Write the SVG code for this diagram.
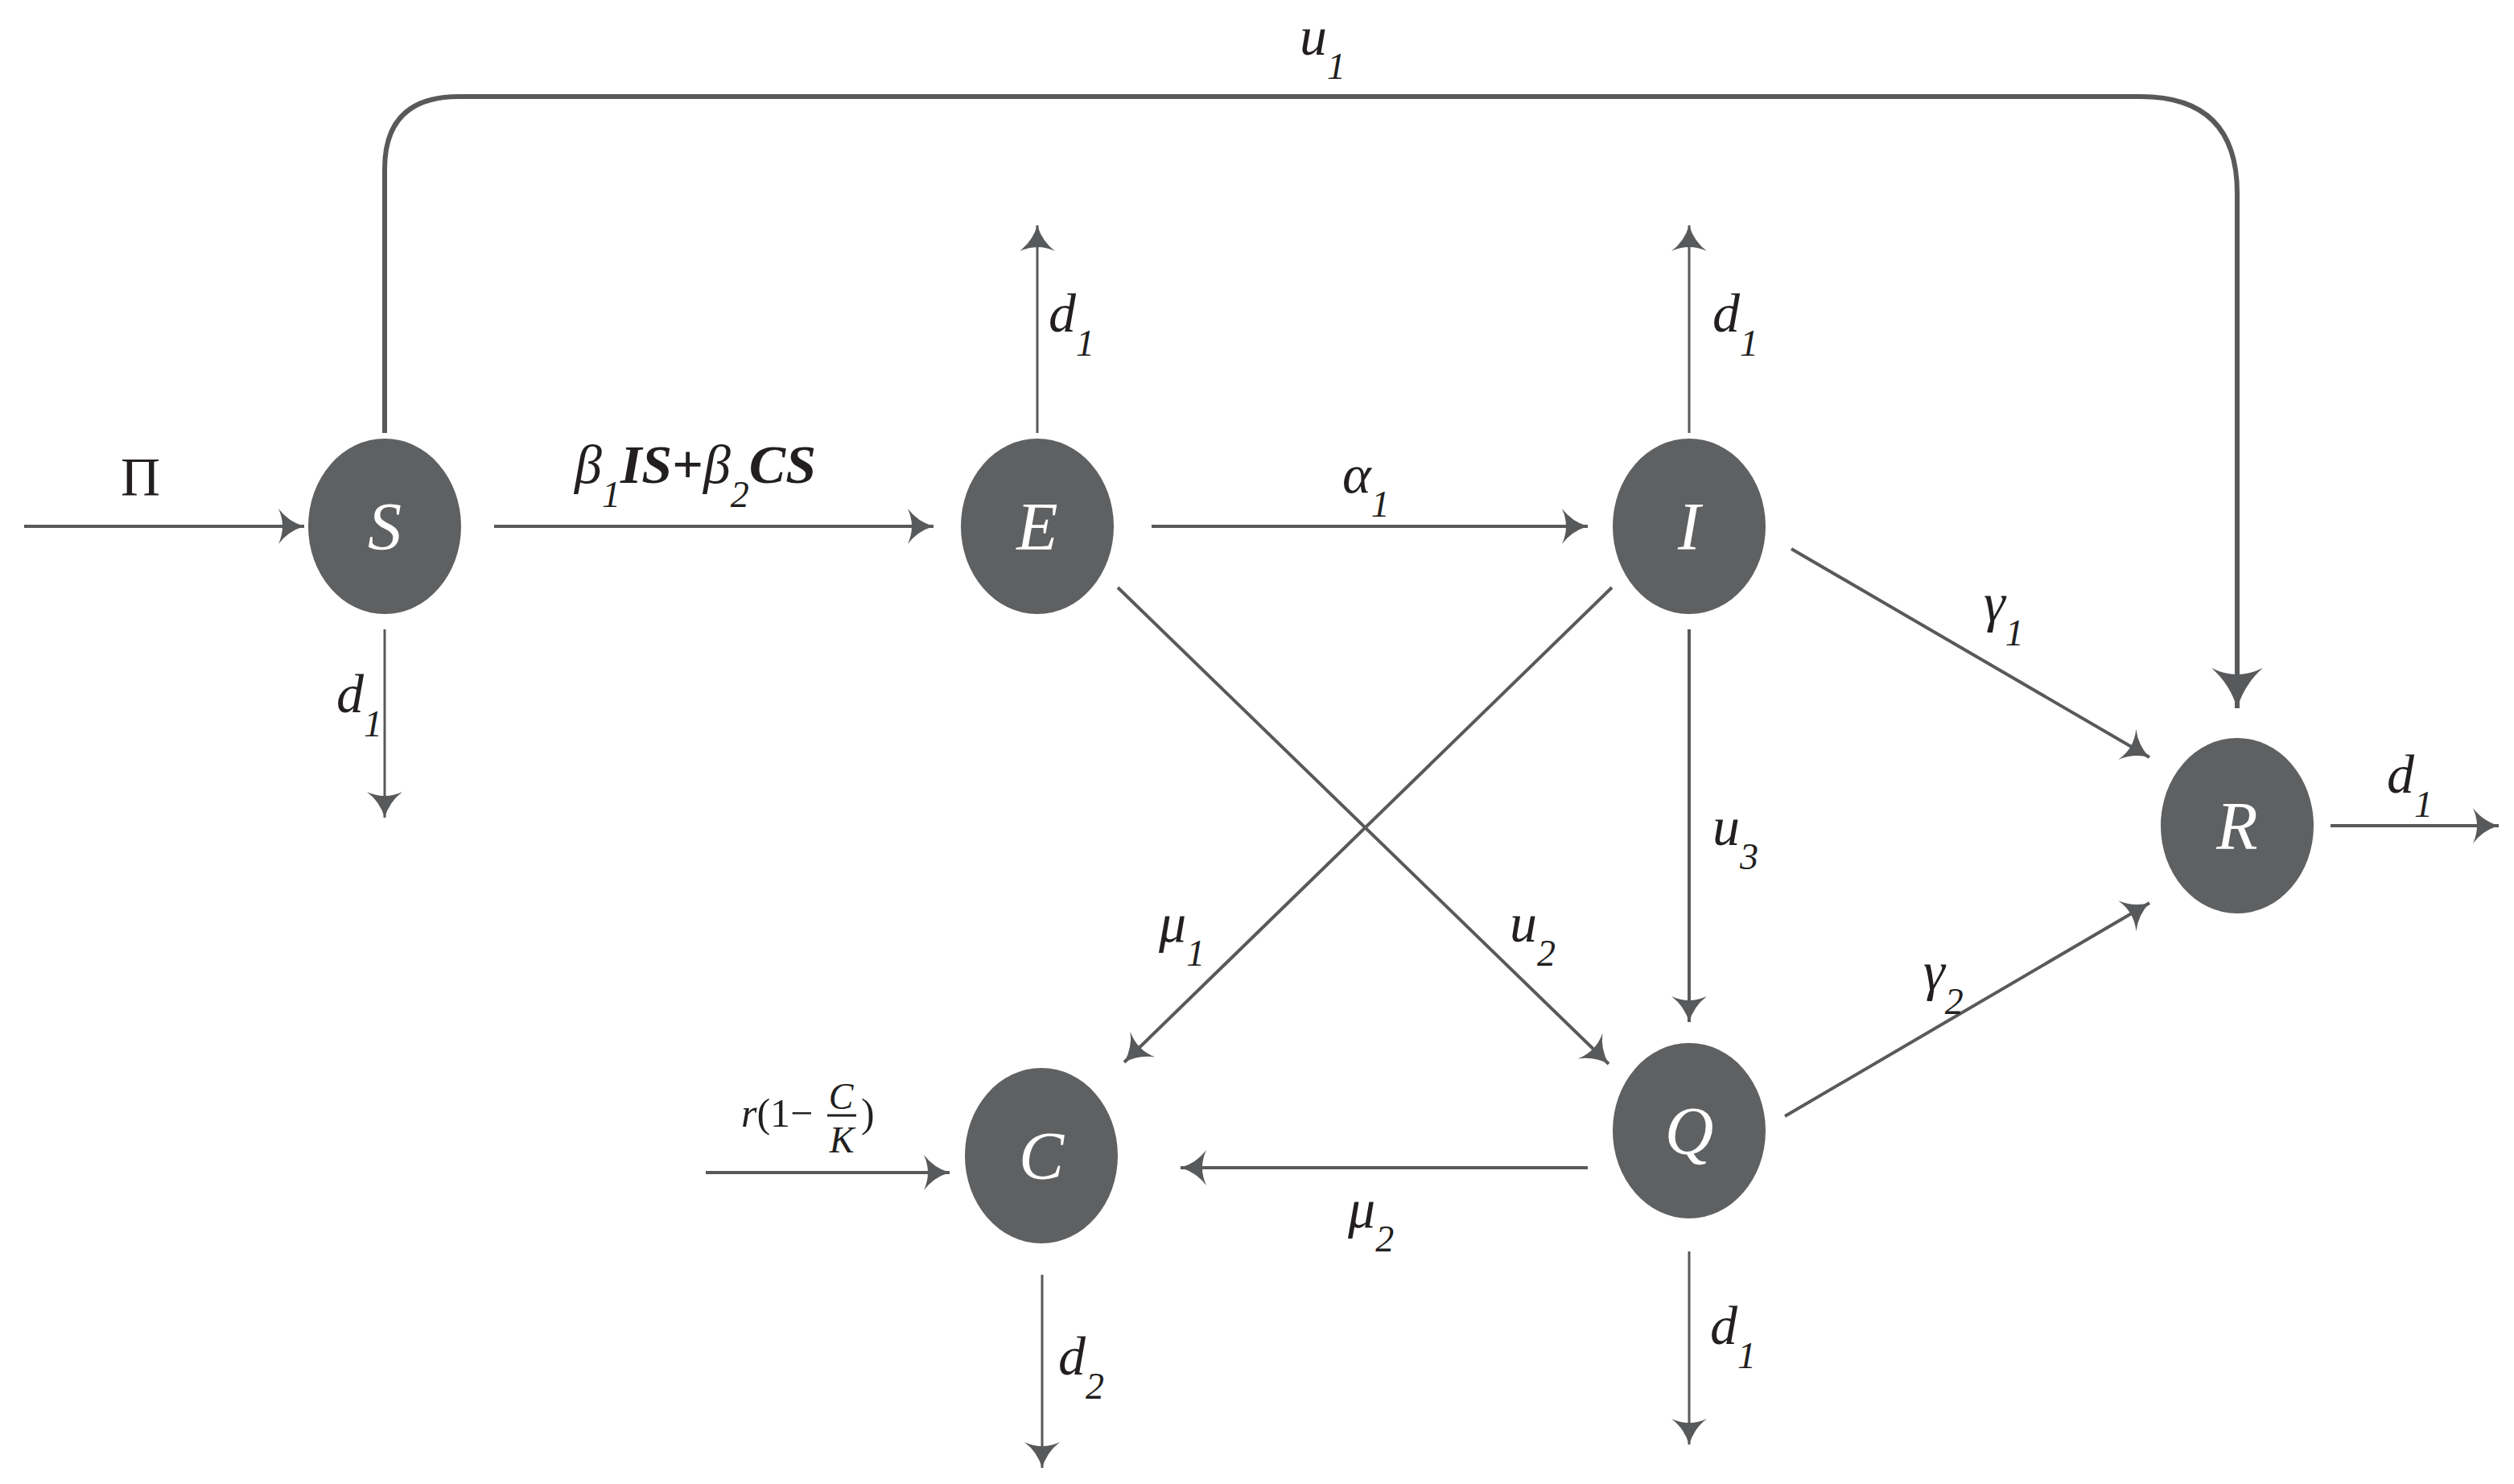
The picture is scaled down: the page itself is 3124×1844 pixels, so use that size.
<svg xmlns="http://www.w3.org/2000/svg" width="3124" height="1844" viewBox="0 0 3124 1844">
<style>
.n{fill:#5f6062}
.nl{font-family:"Liberation Serif",serif;font-style:italic;font-size:84px;fill:#fff;text-anchor:middle}
.l{font-family:"Liberation Serif",serif;font-style:italic;font-size:68px;fill:#231f20}
.s{font-size:46px}
.c{fill:none;stroke:#58595b;stroke-width:4;marker-end:url(#a)}
.t{stroke-width:3}
</style>
<defs>
<marker id="a" markerUnits="userSpaceOnUse" viewBox="-34 -24 36 48" refX="0" refY="0" markerWidth="36" markerHeight="48" orient="auto">
<path d="M0,0 Q-20,-6 -32,-22 Q-22,0 -32,22 Q-20,6 0,0Z" fill="#58595b"/>
</marker>
<marker id="b" markerUnits="userSpaceOnUse" viewBox="-52 -34 54 68" refX="0" refY="0" markerWidth="54" markerHeight="68" orient="auto">
<path d="M0,0 Q-30,-9 -50,-32 Q-34,0 -50,32 Q-30,9 0,0Z" fill="#58595b"/>
</marker>
</defs>
<g id="connectors">
<line class="c" x1="30" y1="654" x2="378" y2="654"/>
<line class="c" x1="614" y1="654" x2="1160" y2="654"/>
<line class="c t" x1="478" y1="782" x2="478" y2="1016"/>
<path class="c" style="stroke-width:6;marker-end:url(#b)" d="M478,538 V210 Q478,120 570,120 H2660 Q2780,120 2780,240 V880"/>
<line class="c t" x1="1289" y1="538" x2="1289" y2="280"/>
<line class="c" x1="1431" y1="654" x2="1973" y2="654"/>
<line class="c t" x1="2099" y1="538" x2="2099" y2="280"/>
<line class="c" x1="2226" y1="682" x2="2671" y2="941"/>
<line class="c" x1="2099" y1="782" x2="2099" y2="1270"/>
<line class="c" x1="2003" y1="730" x2="1397" y2="1320"/>
<line class="c" x1="1389" y1="730" x2="1999" y2="1322"/>
<line class="c" x1="2218" y1="1387" x2="2671" y2="1122"/>
<line class="c" x1="1973" y1="1451" x2="1467" y2="1451"/>
<line class="c t" x1="2099" y1="1555" x2="2099" y2="1795"/>
<line class="c t" x1="1295" y1="1584" x2="1295" y2="1824"/>
<line class="c" x1="877" y1="1457" x2="1180" y2="1457"/>
<line class="c" x1="2896" y1="1026" x2="3105" y2="1026"/>
</g>
<g id="labels">
<text class="l" x="150" y="615" style="font-style:normal">Π</text>
<text class="l" x="714" y="600">β<tspan class="s" dy="30">1</tspan><tspan dy="-30" font-weight="bold">IS</tspan><tspan font-weight="bold" font-style="normal">+</tspan>β<tspan class="s" dy="30">2</tspan><tspan dy="-30" font-weight="bold">CS</tspan></text>
<text class="l" x="418" y="885">d<tspan class="s" dy="30">1</tspan></text>
<text class="l" x="1615" y="68">u<tspan class="s" dy="30">1</tspan></text>
<text class="l" x="1303" y="412">d<tspan class="s" dy="30">1</tspan></text>
<text class="l" x="1668" y="612">α<tspan class="s" dy="30">1</tspan></text>
<text class="l" x="2128" y="412">d<tspan class="s" dy="30">1</tspan></text>
<text class="l" x="2465" y="772">γ<tspan class="s" dy="30">1</tspan></text>
<text class="l" x="2128" y="1050">u<tspan class="s" dy="30">3</tspan></text>
<text class="l" x="1440" y="1170">μ<tspan class="s" dy="30">1</tspan></text>
<text class="l" x="1876" y="1170">u<tspan class="s" dy="30">2</tspan></text>
<text class="l" x="2390" y="1230">γ<tspan class="s" dy="30">2</tspan></text>
<text class="l" x="1675" y="1525">μ<tspan class="s" dy="30">2</tspan></text>
<text class="l" x="2125" y="1670">d<tspan class="s" dy="30">1</tspan></text>
<text class="l" x="1315" y="1708">d<tspan class="s" dy="30">2</tspan></text>
<text class="l" x="2966" y="985">d<tspan class="s" dy="30">1</tspan></text>
<g id="frac">
<text class="l" style="font-size:50px" x="921" y="1400">r<tspan font-style="normal">(1−</tspan></text>
<text class="l" style="font-size:46px" x="1045" y="1378" text-anchor="middle">C</text>
<line x1="1028" y1="1386" x2="1064" y2="1386" stroke="#231f20" stroke-width="3"/>
<text class="l" style="font-size:46px" x="1046" y="1432" text-anchor="middle">K</text>
<text class="l" style="font-size:50px;font-style:normal" x="1070" y="1400">)</text>
</g>
</g>
<g id="S"><ellipse class="n" cx="478" cy="654" rx="95" ry="109"/><text class="nl" x="478" y="683">S</text></g>
<g id="E"><ellipse class="n" cx="1289" cy="654" rx="95" ry="109"/><text class="nl" x="1289" y="683">E</text></g>
<g id="I"><ellipse class="n" cx="2099" cy="654" rx="95" ry="109"/><text class="nl" x="2099" y="683">I</text></g>
<g id="R"><ellipse class="n" cx="2780" cy="1026" rx="95" ry="109"/><text class="nl" x="2780" y="1055">R</text></g>
<g id="Q"><ellipse class="n" cx="2099" cy="1405" rx="95" ry="109"/><text class="nl" x="2099" y="1434">Q</text></g>
<g id="C"><ellipse class="n" cx="1294" cy="1436" rx="95" ry="109"/><text class="nl" x="1294" y="1465">C</text></g>
</svg>
